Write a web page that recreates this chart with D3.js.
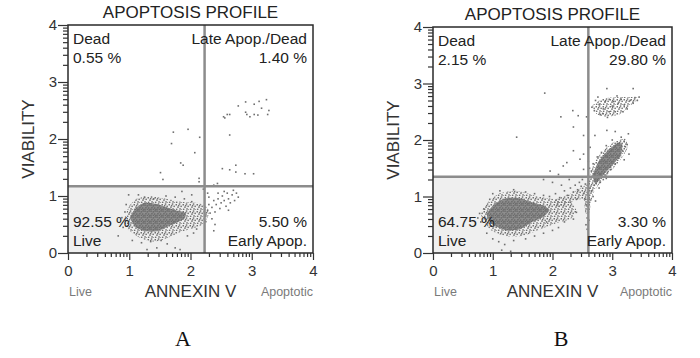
<!DOCTYPE html>
<html>
<head>
<meta charset="utf-8">
<script src="https://cdn.jsdelivr.net/npm/d3@7"></script>
<style>
  body { margin: 0; background: #fff; }
  svg { display: block; }
</style>
</head>
<body>
<div id="chart"></div>
<script>
// --- Data ---
const panelNames = ['A', 'B'];
const gateAnnexin = [2.23, 2.6];
const gateViability = [1.17, 1.35];
const deadPct = ['0.55 %', '2.15 %'];
const latePct = ['1.40 %', '29.80 %'];
const livePct = ['92.55 %', '64.75 %'];
const earlyPct = ['5.50 %', '3.30 %'];
const majorTicks = [0, 1, 2, 3, 4];
const minorSteps = [2, 3, 4, 5, 6, 7, 8, 9];

// dense event regions (annexin, viability)
const haloA = [[[0.92,0.60],[1.00,0.82],[1.12,0.95],[1.35,1.00],[1.60,0.95],[1.85,0.90],[2.10,0.88],[2.25,0.82],[2.30,0.68],[2.20,0.50],[2.00,0.42],[1.80,0.35],[1.60,0.25],[1.40,0.20],[1.20,0.25],[1.05,0.35],[0.95,0.45]]];
const coreA = [[[1.02,0.62],[1.10,0.78],[1.25,0.88],[1.45,0.86],[1.62,0.80],[1.80,0.74],[1.92,0.70],[1.90,0.60],[1.75,0.52],[1.60,0.45],[1.45,0.38],[1.25,0.38],[1.10,0.46]]];
const haloB = [
  [[0.80,0.68],[0.92,0.90],[1.10,1.05],[1.40,1.10],[1.75,1.00],[2.05,0.95],[2.30,0.90],[2.40,0.75],[2.30,0.60],[2.05,0.52],[1.80,0.42],[1.50,0.30],[1.20,0.30],[0.95,0.42]],
  [[2.00,0.92],[2.30,1.05],[2.55,1.20],[2.62,1.35],[2.70,1.60],[2.85,1.82],[3.05,1.98],[3.22,2.02],[3.25,1.85],[3.12,1.62],[2.95,1.42],[2.80,1.25],[2.68,1.05],[2.62,0.75],[2.55,0.70],[2.52,0.95],[2.35,0.92],[2.10,0.82]],
  [[2.67,2.61],[2.85,2.73],[3.13,2.76],[3.44,2.75],[3.30,2.61],[3.13,2.46],[2.91,2.41],[2.74,2.46]]
];
const coreB = [
  [[0.90,0.68],[1.02,0.86],[1.22,0.97],[1.45,0.97],[1.65,0.90],[1.85,0.84],[1.95,0.76],[1.85,0.64],[1.65,0.54],[1.45,0.42],[1.23,0.40],[1.00,0.50]],
  [[2.68,1.38],[2.76,1.60],[2.91,1.80],[3.07,1.94],[3.17,1.92],[3.14,1.74],[3.00,1.55],[2.85,1.38],[2.72,1.22]]
];

// single events
const dotsA = [
  [1.72,2.12],[1.96,2.17],[2.15,2.03],[1.69,1.92],[2.07,1.76],[1.84,1.58],[1.88,1.54],[1.51,1.41],[2.14,1.31],[1.55,1.29],[2.14,1.25],[2.44,1.22],
  [2.54,2.39],[2.60,2.43],[2.64,2.43],[2.56,2.37],[2.78,2.58],[2.90,2.65],[3.04,2.61],[3.12,2.66],[3.24,2.69],[2.92,2.43],[2.97,2.39],[3.04,2.43],
  [3.10,2.42],[3.16,2.54],[3.26,2.43],[3.28,2.50],[2.90,2.47],[2.64,2.07],[2.52,1.48],[2.64,1.46],[2.74,1.54],[2.74,1.42],[2.89,1.39],[3.03,1.39],
  [1.29,0.06],[1.45,0.09],[1.75,0.09],[1.83,0.06],[0.82,0.30],[2.38,0.39],[0.99,1.02],[1.15,1.02],[1.86,1.08],[2.02,1.02],[2.21,1.12],[2.38,1.19],
  [0.90,0.45],[0.93,0.72],[0.88,0.62],[0.95,0.85],[1.05,0.22],[1.20,0.18],[1.35,0.20],[1.52,0.22],[1.62,0.16],[1.40,0.95],[1.60,1.00],[1.75,0.98],
  [1.95,0.30],[2.05,0.35],[2.10,0.42],[1.90,0.95],[2.02,0.90],[1.25,0.98],
  [2.25,0.65],[2.28,0.75],[2.30,0.85],[2.32,0.70],[2.35,0.80],[2.38,0.92],[2.40,0.72],[2.42,0.85],[2.45,0.95],[2.48,0.78],[2.50,0.88],[2.52,1.00],
  [2.55,0.92],[2.58,0.82],[2.60,1.05],[2.62,0.95],[2.65,0.88],[2.68,1.02],[2.70,1.10],[2.72,0.92],[2.75,1.05],[2.78,0.98],[2.55,1.08],[2.45,1.05],
  [2.30,0.98],[2.25,0.55],[2.35,0.60],[2.40,0.50],[2.28,1.05],[2.62,0.75]
];
const dotsB = [
  [1.87,2.83],[1.40,2.05],[2.14,2.41],[2.34,2.52],[2.43,2.43],[2.57,2.41],[2.35,2.23],[2.52,2.08],[2.63,1.87],[2.71,2.08],[2.91,2.91],[3.35,2.91],
  [2.91,2.17],[3.05,2.15],[3.27,2.11],[2.35,1.81],[2.24,1.60],[2.18,1.54],[2.46,1.66],[2.52,1.75],[1.96,1.45],[2.10,1.39],[2.52,1.48],
  [2.66,2.58],[2.72,2.70],[2.78,2.63],[2.85,2.55],[2.80,2.45],[2.88,2.68],[2.95,2.72],[3.00,2.60],[3.05,2.50],[3.10,2.65],[3.15,2.72],[3.20,2.62],
  [3.25,2.55],[3.30,2.70],[3.38,2.75],[3.45,2.76],[3.42,2.70],[2.70,2.52],[2.92,2.40],[3.08,2.78],[2.76,2.76],[2.84,2.47],[3.18,2.50],[3.35,2.65],
  [2.95,2.50],[3.02,2.68],
  [0.75,0.62],[0.80,0.55],[0.85,0.78],[0.78,0.70],[0.90,0.35],[1.00,0.25],[1.10,0.20],[1.20,0.15],[1.15,0.05],[1.30,0.03],[1.35,0.22],[1.55,0.25],
  [1.70,0.30],[1.85,0.35],[2.00,0.40],[2.10,0.45],[1.90,0.55],[2.20,0.55],[2.35,0.60],[2.40,0.72],[1.00,1.05],[1.12,1.10],[1.35,1.12],[1.55,1.08],
  [1.70,1.05],[1.85,1.02],[0.95,0.95],
  [1.95,1.00],[2.05,1.05],[2.12,0.98],[2.20,1.10],[2.25,1.02],[2.30,1.15],[2.35,1.08],[2.38,1.20],[2.42,1.12],[2.45,1.25],[2.48,1.18],[2.50,1.30],
  [2.52,1.05],[2.40,0.95],[2.30,0.90],[2.15,1.20],[2.00,1.25],[1.85,1.30],[2.28,1.30],[2.55,1.22],
  [2.56,0.50],[2.58,0.62],[2.60,0.72],[2.57,0.85],[2.62,0.95],[2.59,1.05],[2.63,1.15],[2.58,0.42],[2.55,0.95],[2.61,0.58],
  [2.65,1.10],[2.70,1.20],[2.75,1.28],[2.80,1.25],[2.68,1.00],[2.72,0.92],[2.85,1.30],[2.90,1.32],[2.78,1.15],
  [2.70,1.40],[2.78,1.50],[2.85,1.62],[2.92,1.70],[2.98,1.80],[3.05,1.88],[3.12,1.95],[3.20,1.98],[3.22,1.88],[3.18,1.80],[3.10,1.68],[3.05,1.58],
  [2.98,1.48],[2.92,1.42],[2.88,1.38],[2.80,1.38],[2.65,1.45],[2.68,1.58],[2.75,1.70],[2.82,1.78],[2.90,1.90],[3.00,2.00],[3.15,2.05],[3.25,1.92],
  [3.28,1.75],[3.20,1.65],[2.62,1.50],[2.60,1.62]
];

const halos = [haloA, haloB];
const cores = [coreA, coreB];
const dots = [dotsA, dotsB];

// --- Layout ---
const layout = [
  { left: 68, right: 313, top: 25, bottom: 253, letterX: 183 },
  { left: 433, right: 672, top: 27, bottom: 253, letterX: 561 }
];
const sansFont = '"Liberation Sans", Arial, sans-serif';

const svg = d3.select('#chart')
  .append('svg')
  .attr('width', 700)
  .attr('height', 358)
  .style('background-color', '#ffffff');

// speckle textures so the dense regions read as piles of events
const defs = svg.append('defs');
const sparse = defs.append('pattern')
  .attr('id', 'speckle-sparse')
  .attr('patternUnits', 'userSpaceOnUse')
  .attr('width', 7).attr('height', 7);
[[0.5, 1.0], [3.8, 0.3], [2.2, 3.4], [5.4, 2.6], [0.9, 5.6], [4.3, 5.2], [6.1, 6.3], [2.9, 1.9]].forEach(p => {
  sparse.append('rect').attr('x', p[0]).attr('y', p[1])
    .attr('width', 1.5).attr('height', 1.5).attr('fill', '#727272');
});
const dense = defs.append('pattern')
  .attr('id', 'speckle-dense')
  .attr('patternUnits', 'userSpaceOnUse')
  .attr('width', 6).attr('height', 6);
dense.append('rect').attr('width', 6).attr('height', 6).attr('fill', '#8e8e8e');
[[0.3, 0.4], [2.6, 1.1], [4.4, 0.2], [1.2, 2.9], [3.9, 3.3], [0.2, 4.6], [2.7, 4.8], [5.0, 5.1]].forEach(p => {
  dense.append('rect').attr('x', p[0]).attr('y', p[1])
    .attr('width', 1.5).attr('height', 1.5).attr('fill', '#6a6a6a');
});

// minor log ticks inside each decade
const minorTicks = [];
majorTicks.slice(0, -1).forEach(d => minorSteps.forEach(k => minorTicks.push(d + Math.log10(k))));

function drawPanel(i) {
  const L = layout[i];
  const x = d3.scaleLinear().domain([0, 4]).range([L.left, L.right]);
  const y = d3.scaleLinear().domain([0, 4]).range([L.bottom, L.top]);
  const g = svg.append('g');

  // live quadrant shading
  g.append('rect')
    .attr('x', x(0))
    .attr('y', y(gateViability[i]))
    .attr('width', x(gateAnnexin[i]) - x(0))
    .attr('height', y(0) - y(gateViability[i]))
    .attr('fill', '#efefef');

  // event clouds
  const blob = d3.line()
    .x(d => x(d[0]))
    .y(d => y(d[1]))
    .curve(d3.curveCardinalClosed.tension(0.4));

  g.selectAll('path.halo')
    .data(halos[i])
    .enter().append('path')
    .attr('d', blob)
    .attr('fill', 'url(#speckle-sparse)');

  g.selectAll('path.core')
    .data(cores[i])
    .enter().append('path')
    .attr('d', blob)
    .attr('fill', 'url(#speckle-dense)');

  g.selectAll('rect.dot')
    .data(dots[i])
    .enter().append('rect')
    .attr('x', d => x(d[0]) - 0.8)
    .attr('y', d => y(d[1]) - 0.8)
    .attr('width', 1.6)
    .attr('height', 1.6)
    .attr('fill', '#6f6f6f');

  // gate lines
  g.append('line')
    .attr('x1', x(gateAnnexin[i])).attr('x2', x(gateAnnexin[i]))
    .attr('y1', y(0)).attr('y2', y(4))
    .attr('stroke', '#8c8c8c').attr('stroke-width', 2.5);
  g.append('line')
    .attr('x1', x(0)).attr('x2', x(4))
    .attr('y1', y(gateViability[i])).attr('y2', y(gateViability[i]))
    .attr('stroke', '#8c8c8c').attr('stroke-width', 2.5);

  // frame
  g.append('rect')
    .attr('x', x(0)).attr('y', y(4))
    .attr('width', x(4) - x(0)).attr('height', y(0) - y(4))
    .attr('fill', 'none')
    .attr('stroke', '#2a2a2a')
    .attr('stroke-width', 1.5);

  // --- Axes ---
  const styleAxis = sel => {
    sel.select('.domain').remove();
    sel.selectAll('line').attr('stroke', '#333').attr('stroke-width', 1.2);
    sel.selectAll('text')
      .attr('font-family', sansFont)
      .attr('font-size', 15)
      .attr('fill', '#333');
  };

  g.append('g')
    .attr('transform', `translate(${x(0)},0)`)
    .call(d3.axisLeft(y).tickValues(minorTicks).tickSize(5).tickFormat(''))
    .call(styleAxis);
  g.append('g')
    .attr('transform', `translate(${x(0)},0)`)
    .call(d3.axisLeft(y).tickValues(majorTicks).tickSize(10).tickPadding(1).tickFormat(d3.format('d')))
    .call(styleAxis);

  g.append('g')
    .attr('transform', `translate(0,${y(0)})`)
    .call(d3.axisBottom(x).tickValues(minorTicks).tickSize(4).tickFormat(''))
    .call(styleAxis);
  g.append('g')
    .attr('transform', `translate(0,${y(0)})`)
    .call(d3.axisBottom(x).tickValues(majorTicks).tickSize(7).tickPadding(5).tickFormat(d3.format('d')))
    .call(styleAxis);

  // --- Titles ---
  const cx = (x(0) + x(4)) / 2;
  g.append('text')
    .attr('x', cx).attr('y', L.top - 7)
    .attr('text-anchor', 'middle')
    .attr('font-family', sansFont).attr('font-size', 17)
    .attr('fill', '#222')
    .text('APOPTOSIS PROFILE');

  g.append('text')
    .attr('transform', `translate(${x(0) - 34},${(y(0) + y(4)) / 2}) rotate(-90)`)
    .attr('text-anchor', 'middle')
    .attr('font-family', sansFont).attr('font-size', 17)
    .attr('fill', '#333')
    .text('VIABILITY');

  g.append('text')
    .attr('x', cx).attr('y', y(0) + 44)
    .attr('text-anchor', 'middle')
    .attr('font-family', sansFont).attr('font-size', 17)
    .attr('fill', '#333')
    .text('ANNEXIN V');

  g.append('text')
    .attr('x', x(0) + 1).attr('y', y(0) + 43)
    .attr('font-family', sansFont).attr('font-size', 12.5)
    .attr('fill', '#7a7a7a')
    .text('Live');
  g.append('text')
    .attr('x', x(4)).attr('y', y(0) + 43)
    .attr('text-anchor', 'end')
    .attr('font-family', sansFont).attr('font-size', 12.5)
    .attr('fill', '#7a7a7a')
    .text('Apoptotic');

  // --- Quadrant labels ---
  const quad = (tx, ty, anchor, label) => g.append('text')
    .attr('x', tx).attr('y', ty)
    .attr('text-anchor', anchor)
    .attr('font-family', sansFont).attr('font-size', 15.5)
    .attr('fill', '#222')
    .text(label);

  quad(x(0) + 5, y(4) + 19, 'start', 'Dead');
  quad(x(0) + 5, y(4) + 38, 'start', deadPct[i]);
  quad(x(4) - 6, y(4) + 19, 'end', 'Late Apop./Dead');
  quad(x(4) - 6, y(4) + 38, 'end', latePct[i]);
  quad(x(0) + 5, y(0) - 26, 'start', livePct[i]);
  quad(x(0) + 5, y(0) - 7, 'start', 'Live');
  quad(x(4) - 6, y(0) - 26, 'end', earlyPct[i]);
  quad(x(4) - 6, y(0) - 7, 'end', 'Early Apop.');

  // panel letter
  svg.append('text')
    .attr('x', L.letterX).attr('y', 346)
    .attr('text-anchor', 'middle')
    .attr('font-family', '"Liberation Serif", "Times New Roman", serif')
    .attr('font-size', 22)
    .attr('fill', '#111')
    .text(panelNames[i]);
}

panelNames.forEach((d, i) => drawPanel(i));
</script>
</body>
</html>
